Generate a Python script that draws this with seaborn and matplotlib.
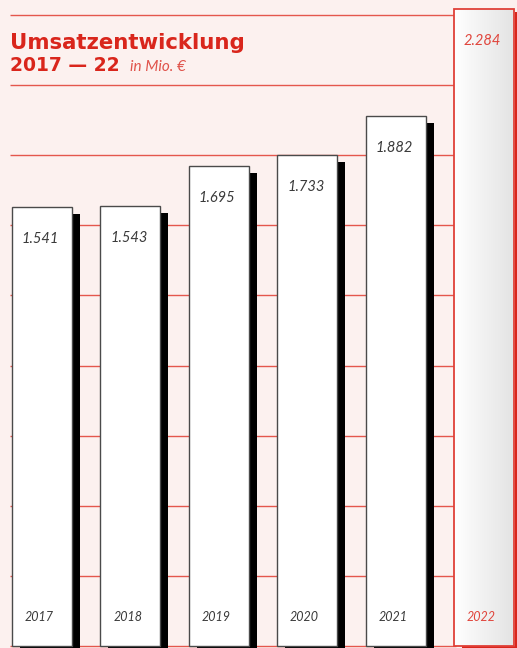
import numpy as np
import pandas as pd
import matplotlib
matplotlib.use("Agg")
import matplotlib.pyplot as plt
import matplotlib.patheffects as pe
from matplotlib.colors import LinearSegmentedColormap
from matplotlib.patches import Rectangle
import seaborn as sns

# Revenue data (in millions of euros)
years = ["2017", "2018", "2019", "2020", "2021", "2022"]
revenue = [1541, 1543, 1695, 1733, 1882, 2284]
value_labels = ["1.541", "1.543", "1.695", "1.733", "1.882", "2.284"]

title = "Umsatzentwicklung"
subtitle = "2017 — 22"
unit = "in Mio. €"

RED = "#d9261c"
LINE_RED = "#e4574d"
BG = "#fcf1ef"
TEXT_GREY = "#3a3a3a"

W, H = 517, 648
DPI = 100
Y_LO, Y_HI = -117.5, 2316.8
BAR_FOOT = -110   # bars are drawn down to the bottom rule

sns.set_theme(style="white")
plt.rcParams["font.family"] = ["Lato", "DejaVu Sans"]

fig = plt.figure(figsize=(W / DPI, H / DPI), dpi=DPI, facecolor=BG)
ax = fig.add_axes([0, 0, 1, 1])
ax.set_facecolor(BG)

df = pd.DataFrame({"year": years, "revenue": revenue})
palette = {y: "white" for y in years}
sns.barplot(data=df, x="year", y="revenue", hue="year", palette=palette,
            legend=False, width=0.679, errorbar=None, ax=ax, zorder=3,
            linewidth=1.0, edgecolor="#4a4a4a")

ax.set_axis_off()

# Horizontal rules behind the bars
xa = ax.get_xaxis_transform()
for k in range(10):
    yf = 1 - (15 + 70.1 * k) / H
    ax.plot([-0.362, 4.68], [yf, yf], transform=xa, color=LINE_RED,
            lw=1.0, zorder=1, solid_capstyle="butt")

px2pt = 72 / DPI
bars = sorted(ax.patches, key=lambda p: p.get_x())
for i, bar in enumerate(bars):
    x0 = bar.get_x()
    w = bar.get_width()
    top = bar.get_y() + bar.get_height()
    bar.set_y(BAR_FOOT)
    bar.set_height(top - BAR_FOOT)
    last = i == len(bars) - 1
    if not last:
        bar.set_path_effects([
            pe.SimplePatchShadow(offset=(8 * px2pt, -7 * px2pt),
                                 shadow_rgbFace="black", alpha=1.0),
            pe.Normal()])
    else:
        bar.set_edgecolor("none")
        bar.set_path_effects([
            pe.SimplePatchShadow(offset=(8 * px2pt, -3 * px2pt),
                                 shadow_rgbFace=RED, alpha=1.0),
            pe.Normal()])
        cmap = LinearSegmentedColormap.from_list("g", ["#ffffff", "#e3e3e3"])
        img = ax.imshow(np.linspace(0, 1, 256).reshape(1, -1), cmap=cmap,
                        extent=[x0, x0 + w, BAR_FOOT, top], aspect="auto",
                        zorder=3.1, interpolation="bilinear")
        img.set_clip_path(bar)
        ax.add_patch(Rectangle((x0, BAR_FOOT), w, top - BAR_FOOT, fill=False,
                               edgecolor="#e04038", lw=1.3, zorder=3.2))
    col = "#e0453c" if last else TEXT_GREY
    ax.annotate(value_labels[i], xy=(x0, revenue[i]), xytext=(10 * px2pt, -32 * px2pt),
                textcoords="offset points", ha="left", va="center",
                fontsize=10.5, style="italic", color=col, zorder=5)
    ax.text(x0 + w / 2 - 0.03, 1 - 617 / H, years[i], transform=xa,
            ha="center", va="center", fontsize=9, style="italic",
            color=col, zorder=5)

ax.set_xlim(-0.475, 5.373)
ax.set_ylim(Y_LO, Y_HI)

# Heading
fig.text(10 / W, 1 - 49 / H, title, ha="left", va="baseline",
         fontsize=15.3, fontweight="bold", color=RED, family="DejaVu Sans")
fig.text(10 / W, 1 - 71 / H, subtitle, ha="left", va="baseline",
         fontsize=13.5, fontweight="bold", color=RED, family="DejaVu Sans")
fig.text(130 / W, 1 - 71 / H, unit, ha="left", va="baseline",
         fontsize=11, style="italic", color="#e0524a")

fig.savefig("out.png", dpi=DPI, facecolor=BG)
